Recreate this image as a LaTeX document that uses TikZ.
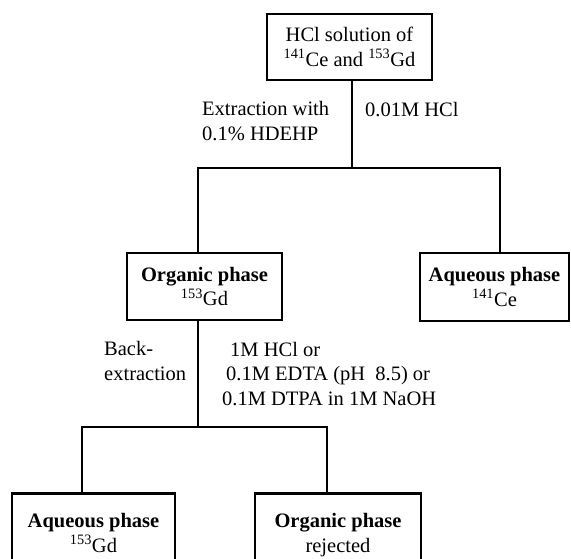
\documentclass[tikz,border=0pt]{standalone}
\usepackage{fontspec}
\setmainfont{Liberation Serif}
\usetikzlibrary{positioning}

\begin{document}
\begin{tikzpicture}[x=1pt, y=-1pt,
    font=\fontsize{20.5}{24.5}\selectfont,
    phase/.style={draw, line width=2.6pt, align=center, inner sep=0pt},
    link/.style={line width=2.6pt, line cap=rect},
    lbl/.style={align=left, anchor=west, inner sep=0pt}]
    % 0. Khung tranh (pixel coordinates, y downwards)
    \useasboundingbox (0,0) rectangle (571,558);
    \clip (0,0) rectangle (571,558);

    % 1. Dung dich ban dau
    \node[phase, minimum width=165, minimum height=66] (src) at (349.5,47)
        {HCl solution of\\\textsuperscript{141}Ce and \textsuperscript{153}Gd};

    % 2. Hai pha sau chiet
    \node[phase, minimum width=155, minimum height=67] (org1) at (204.5,286.5)
        {\textbf{Organic phase}\\\textsuperscript{153}Gd};
    \node[phase, minimum width=149, minimum height=68] (aq1) at (494.5,287)
        {\textbf{Aqueous phase}\\\textsuperscript{141}Ce};

    % 3. Hai pha sau chiet nguoc (cat o mep duoi)
    \node[phase, anchor=north, minimum width=163, inner ysep=20pt] (aq2) at (93.5,492)
        {\textbf{Aqueous phase}\\\textsuperscript{153}Gd};
    \node[phase, anchor=north, minimum width=166, inner ysep=20pt] (org2) at (338,492)
        {\textbf{Organic phase}\\rejected};

    % 4. Duong noi
    \coordinate (fork1) at (352,168);
    \coordinate (l1) at (198,168);
    \coordinate (r1) at (500,168);
    \draw[link] (fork1 |- src.south) -- (fork1);
    \draw[link] (l1 |- org1.north) -- (l1) -- (r1) -- (r1 |- aq1.north);

    \coordinate (fork2) at (198,427);
    \coordinate (l2) at (82,427);
    \coordinate (r2) at (327,427);
    \draw[link] (fork2 |- org1.south) -- (fork2);
    \draw[link] (l2 |- aq2.north) -- (l2) -- (r2) -- (r2 |- org2.north);

    % 5. Nhan
    \node[lbl] (extr) at (202,121) {Extraction with\\0.1\% HDEHP};
    \node[lbl] (hcl) at (365,110) {0.01M HCl};
    \node[lbl] (back) at (104,361) {Back-\\extraction};
    \node[lbl] (reag) at (222,374)
        {\hspace{8pt}1M HCl or\\\hspace{4pt}0.1M EDTA (pH\ \ 8.5) or\\0.1M DTPA in 1M NaOH};
\end{tikzpicture}
\end{document}
